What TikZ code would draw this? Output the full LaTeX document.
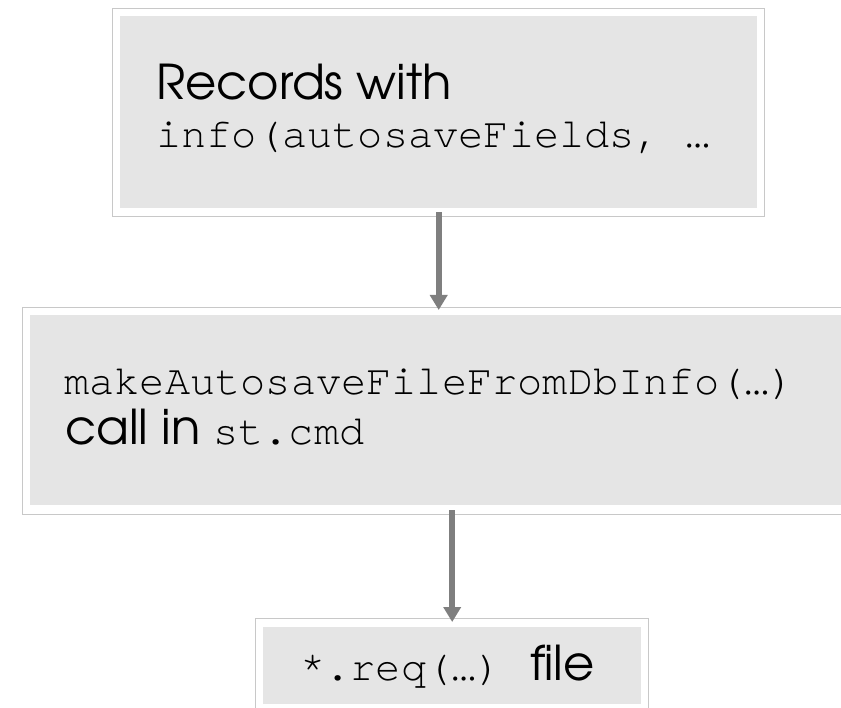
\documentclass[tikz,border=0pt]{standalone}
\usepackage{fontspec}
\setmainfont{TeX Gyre Adventor}
\setmonofont{TeX Gyre Cursor}
\usetikzlibrary{arrows.meta}
\definecolor{boxfill}{RGB}{229,229,229}
\definecolor{boxline}{RGB}{200,200,200}
\definecolor{arrowgray}{RGB}{127,127,127}
\begin{document}
\begin{tikzpicture}[x=1pt,y=-1pt,
  fillbox/.style={fill=boxfill, draw=none, inner sep=0pt, anchor=north west},
  outerbox/.style={draw=boxline, line width=1.2pt, fill=white, inner sep=0pt, anchor=north west},
  lbl/.style={anchor=base west, inner sep=0pt, font=\fontsize{48}{56}\selectfont},
  mono/.style={anchor=base west, inner sep=0pt, font=\fontsize{42}{50}\selectfont\ttfamily},
  flow/.style={draw=arrowgray, line width=6pt, -{Triangle[width=17pt,length=15pt]}}
]
\useasboundingbox (0,0) rectangle (841,708);
\clip (0,0) rectangle (841,708);
% box 1
\node[outerbox, minimum width=652pt, minimum height=208pt] (o1) at (112,8) {};
\node[fillbox, minimum width=637pt, minimum height=192pt] (b1) at (120,16) {};
\node[lbl] (t1) at (156,100) {Records with};
\node[mono] (t2) at (156,148) {info(autosaveFields, …};
% box 2
\node[outerbox, minimum width=840pt, minimum height=207pt] (o2) at (22,307) {};
\node[fillbox, minimum width=820pt, minimum height=190pt] (b2) at (30,315) {};
\node[mono] (t3) at (64,395) {makeAutosaveFileFromDbInfo(…)};
\node[lbl] (t4) at (65,445) {call in};
\node[mono] (t5) at (213,445) {st.cmd};
% box 3
\node[outerbox, minimum width=393pt, minimum height=100pt] (o3) at (255,618) {};
\node[fillbox, minimum width=378pt, minimum height=77pt] (b3) at (263,627) {};
\node[mono] (t6) at (300,680) {*.req(…)};
\node[lbl] (t7) at (530,680) {file};
% arrows
\draw[flow, shorten <=4pt, shorten >=5pt] (b1.south) -- (b1.south |- b2.north);
\draw[flow, shorten <=5pt, shorten >=5pt] (b3.north |- b2.south) -- (b3.north);
\end{tikzpicture}
\end{document}
